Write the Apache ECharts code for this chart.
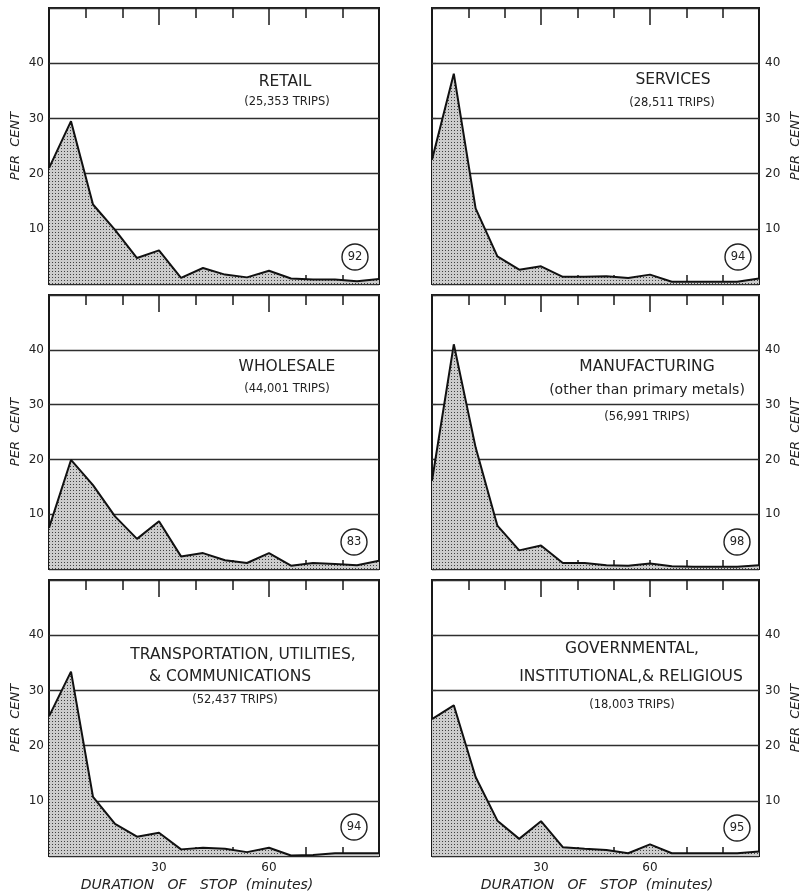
<!DOCTYPE html>
<html>
<head>
<meta charset="utf-8">
<style>html,body{margin:0;padding:0;background:#fff;}#c{width:803px;height:896px;}</style>
<script src="https://cdn.jsdelivr.net/npm/echarts@6/dist/echarts.min.js"></script>
</head>
<body>
<div id="c"></div>
<script>
// Duration of stop (minutes) for each plotted point
var durations = [0, 6, 12, 18, 24, 30, 36, 42, 48, 54, 60, 66, 72, 78, 84, 90];
var retail        = [21, 29.5, 14.4, 9.8, 4.7, 6.1, 1.1, 2.9, 1.7, 1.2, 2.4, 1.0, 0.8, 0.8, 0.5, 0.9];
var services      = [22.5, 38.1, 13.7, 5.0, 2.6, 3.2, 1.3, 1.3, 1.4, 1.1, 1.7, 0.4, 0.4, 0.4, 0.4, 1.0];
var wholesale     = [7.5, 19.9, 15.3, 9.6, 5.5, 8.7, 2.3, 2.9, 1.6, 1.1, 2.9, 0.6, 1.1, 0.9, 0.7, 1.5];
var manufacturing = [16.1, 41.0, 22.2, 7.9, 3.4, 4.3, 1.1, 1.1, 0.7, 0.6, 1.0, 0.5, 0.4, 0.4, 0.4, 0.7];
var transport     = [25.3, 33.4, 10.7, 5.8, 3.5, 4.2, 1.2, 1.5, 1.3, 0.7, 1.5, 0.1, 0.2, 0.5, 0.5, 0.5];
var government    = [24.8, 27.3, 14.3, 6.4, 3.1, 6.3, 1.6, 1.3, 1.1, 0.5, 2.1, 0.5, 0.5, 0.5, 0.5, 0.8];
var yTicks = [10, 20, 30, 40];
var xTickLabels = [30, 60];

var panels = [
  {data: retail,        lines: ['RETAIL', '(25,353 TRIPS)'],                        code: '92', col: 0, row: 0},
  {data: services,      lines: ['SERVICES', '(28,511 TRIPS)'],                      code: '94', col: 1, row: 0},
  {data: wholesale,     lines: ['WHOLESALE', '(44,001 TRIPS)'],                     code: '83', col: 0, row: 1},
  {data: manufacturing, lines: ['MANUFACTURING', '(other than primary metals)', '(56,991 TRIPS)'], code: '98', col: 1, row: 1},
  {data: transport,     lines: ['TRANSPORTATION, UTILITIES,', '& COMMUNICATIONS', '(52,437 TRIPS)'], code: '94', col: 0, row: 2},
  {data: government,    lines: ['GOVERNMENTAL,', 'INSTITUTIONAL,& RELIGIOUS', '(18,003 TRIPS)'], code: '95', col: 1, row: 2}
];

// layout
var colLeft = [49, 432], colWidth = [330, 331];
var rowTop = [8, 295, 580], rowHeight = [276, 274, 276];
var textPos = [
  {x: [285, 287], y: [82, 102], c: [355, 257]},
  {x: [673, 672], y: [80, 103], c: [738, 257]},
  {x: [287, 287], y: [367, 389], c: [354, 542]},
  {x: [647, 647, 647], y: [367, 390, 417], c: [737, 542]},
  {x: [243, 230, 235], y: [655, 677, 700], c: [354, 827]},
  {x: [632, 631, 632], y: [649, 677, 705], c: [737, 828]}
];

// stipple pattern
var pc = document.createElement('canvas');
pc.width = 3; pc.height = 3;
var pctx = pc.getContext('2d');
pctx.fillStyle = '#cccccc'; pctx.fillRect(0, 0, 3, 3);
pctx.fillStyle = '#404040'; pctx.fillRect(1, 1, 1, 1);

var FONT = 'DejaVu Sans';
var grids = [], xAxes = [], yAxes = [], series = [], graphics = [];

panels.forEach(function (p, i) {
  grids.push({
    left: colLeft[p.col], top: rowTop[p.row], width: colWidth[p.col], height: rowHeight[p.row],
    show: true, borderColor: '#1a1a1a', borderWidth: 2, backgroundColor: 'transparent'
  });
  var bottomRow = p.row === 2;
  xAxes.push({
    type: 'value', gridIndex: i, min: 0, max: 90, interval: 10, position: 'bottom',
    axisLine: {show: false},
    axisTick: {show: true, inside: true, length: 9, lineStyle: {color: '#1a1a1a', width: 1.5}},
    splitLine: {show: false},
    axisLabel: {
      show: bottomRow, margin: 6, color: '#222', fontFamily: FONT, fontSize: 12,
      formatter: function (v) { return xTickLabels.indexOf(v) >= 0 ? String(v) : ''; }
    }
  });
  xAxes.push({
    type: 'value', gridIndex: i, min: 0, max: 90, interval: 10, position: 'top',
    axisLine: {show: false},
    axisTick: {show: true, inside: true, length: 10, lineStyle: {color: '#1a1a1a', width: 1.5}},
    splitLine: {show: false}, axisLabel: {show: false}
  });
  xAxes.push({
    type: 'value', gridIndex: i, min: 0, max: 90, interval: 30, position: 'top',
    axisLine: {show: false},
    axisTick: {show: true, inside: true, length: 17, lineStyle: {color: '#1a1a1a', width: 1.5}},
    splitLine: {show: false}, axisLabel: {show: false}
  });
  var right = p.col === 1;
  yAxes.push({
    type: 'value', gridIndex: i, min: 0, max: 50, interval: 10,
    position: right ? 'right' : 'left',
    axisLine: {show: false},
    axisTick: {show: right, length: 4, lineStyle: {color: '#333', width: 1.2}},
    splitLine: {show: true, lineStyle: {color: '#2e2e2e', width: 1.4}},
    axisLabel: {
      margin: right ? 6 : 5, color: '#222', fontFamily: FONT, fontSize: 12,
      formatter: function (v) { return yTicks.indexOf(v) >= 0 ? String(v) : ''; }
    },
    name: 'PER  CENT', nameLocation: 'middle', nameRotate: 90, nameGap: right ? 30 : 27,
    nameTextStyle: {fontFamily: FONT, fontStyle: 'italic', fontSize: 13, color: '#222', padding: 0}
  });
  series.push({
    type: 'line', xAxisIndex: i * 3, yAxisIndex: i, symbol: 'none', silent: true,
    data: durations.map(function (d, k) { return [d, p.data[k]]; }),
    lineStyle: {color: '#111', width: 2},
    areaStyle: {color: {image: pc, repeat: 'repeat'}, opacity: 1},
    z: 1
  });
  var tp = textPos[i];
  p.lines.forEach(function (t, k) {
    var isCount = /TRIPS/.test(t);
    var isOther = /other/.test(t);
    graphics.push({
      type: 'text', x: tp.x[k], y: tp.y[k], z: 10,
      style: {
        text: t, fill: '#222', align: 'center', verticalAlign: 'middle',
        fontFamily: FONT, fontSize: isCount ? 11.5 : (isOther ? 14 : 15.5)
      }
    });
  });
  graphics.push({
    type: 'circle', shape: {cx: tp.c[0], cy: tp.c[1], r: 13}, z: 10,
    style: {fill: '#fff', stroke: '#222', lineWidth: 1.4}
  });
  graphics.push({
    type: 'text', x: tp.c[0], y: tp.c[1], z: 11,
    style: {text: p.code, fill: '#222', align: 'center', verticalAlign: 'middle', fontFamily: FONT, fontSize: 11.5}
  });
});

[197, 597].forEach(function (cx) {
  graphics.push({
    type: 'text', x: cx, y: 885, z: 10,
    style: {
      text: 'DURATION   OF   STOP  (minutes)', fill: '#222', align: 'center', verticalAlign: 'middle',
      fontFamily: FONT, fontStyle: 'italic', fontSize: 14
    }
  });
});

var chart = echarts.init(document.getElementById('c'), null, {renderer: 'canvas'});
chart.setOption({
  animation: false,
  backgroundColor: '#fff',
  grid: grids, xAxis: xAxes, yAxis: yAxes, series: series, graphic: graphics
});
</script>
</body>
</html>
